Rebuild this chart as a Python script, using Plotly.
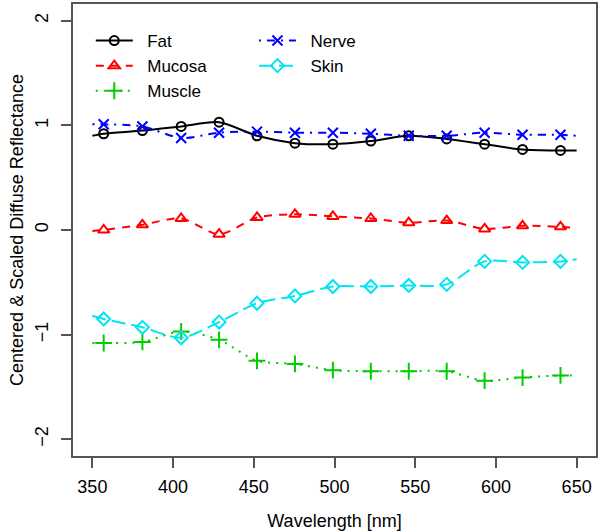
import plotly.graph_objects as go

# Wavelengths (nm) where markers are drawn
marker_wl = [357, 381, 405, 428.5, 452, 475.5, 499, 522.5, 546, 569.5, 593, 616.5, 640]
# Line end wavelengths
wl_start, wl_end = 350, 650

fat = [0.92, 0.95, 0.99, 1.03, 0.90, 0.83, 0.82, 0.85, 0.90, 0.87, 0.82, 0.77, 0.76]
mucosa = [0.00, 0.05, 0.11, -0.04, 0.12, 0.15, 0.13, 0.11, 0.07, 0.09, 0.01, 0.04, 0.03]
muscle = [-1.08, -1.07, -0.97, -1.05, -1.25, -1.28, -1.34, -1.35, -1.35, -1.35, -1.44, -1.41, -1.39]
nerve = [1.01, 0.99, 0.88, 0.93, 0.94, 0.93, 0.93, 0.92, 0.90, 0.90, 0.93, 0.91, 0.91]
skin = [-0.85, -0.93, -1.03, -0.88, -0.70, -0.63, -0.54, -0.54, -0.53, -0.52, -0.30, -0.31, -0.30]

# values at line ends (350, 650)
fat_ends = [0.90, 0.76]
mucosa_ends = [-0.01, 0.02]
muscle_ends = [-1.08, -1.39]
nerve_ends = [1.01, 0.90]
skin_ends = [-0.82, -0.28]

y_ticks = [-2, -1, 0, 1, 2]
x_ticks = [350, 400, 450, 500, 550, 600, 650]

FONT = "Liberation Sans, Arial, Helvetica, sans-serif"
NB = "\u00a0\u00a0"

series = [
    ("Fat", fat, fat_ends, "#000000", "solid", "circle-open", 9, "legend"),
    ("Mucosa", mucosa, mucosa_ends, "#FF0000", "8px,7px", "triangle-up-open", 10, "legend"),
    ("Muscle", muscle, muscle_ends, "#00CD00", "2px,6px", "cross-thin-open", 12, "legend"),
    ("Nerve", nerve, nerve_ends, "#0000FF", "2px,6px,8px,6px", "x-thin-open", 10, "legend2"),
    ("Skin", skin, skin_ends, "#00E5EE", "14px,6px", "diamond-open", 10, "legend2"),
]

fig = go.Figure()
for name, vals, ends, color, dash, sym, ms, leg in series:
    fig.add_trace(go.Scatter(
        x=[wl_start] + marker_wl + [wl_end], y=[ends[0]] + vals + [ends[1]],
        mode="lines", line=dict(color=color, width=2, dash=dash, shape="spline", smoothing=0.8),
        showlegend=False, hoverinfo="skip"))
    fig.add_trace(go.Scatter(
        x=marker_wl, y=vals, mode="markers",
        marker=dict(symbol=sym, size=ms, color=color, line=dict(color=color, width=2)),
        showlegend=False))
    fig.add_trace(go.Scatter(
        x=[None], y=[None], mode="lines+markers", name=NB + name, legend=leg,
        line=dict(color=color, width=2, dash=dash),
        marker=dict(symbol=sym, size=ms, color=color, line=dict(color=color, width=2))))

axis_common = dict(
    showgrid=False, zeroline=False, showline=True, mirror=True,
    linecolor="#555555", linewidth=1.5, ticks="outside", ticklen=10,
    tickcolor="#555555", tickwidth=1.5,
    tickfont=dict(family=FONT, size=18, color="#000000"),
)

fig.update_layout(
    width=600, height=532,
    margin=dict(l=73, r=3, t=2, b=76),
    paper_bgcolor="white", plot_bgcolor="white",
    font=dict(family=FONT, size=18, color="#000000"),
    xaxis=dict(range=[338, 662], tickvals=x_ticks, ticklabelstandoff=4,
               title=dict(text="Wavelength [nm]", font=dict(family=FONT, size=18), standoff=18),
               **axis_common),
    yaxis=dict(range=[-2.16, 2.16], tickvals=y_ticks, tickangle=-90, ticklabelstandoff=6,
               title=dict(text="Centered & Scaled Diffuse Reflectance", font=dict(family=FONT, size=18), standoff=4),
               **axis_common),
    legend=dict(x=0.034, y=0.958, xanchor="left", yanchor="top", bgcolor="rgba(0,0,0,0)",
                font=dict(family=FONT, size=17), itemwidth=37, tracegroupgap=0),
    legend2=dict(x=0.346, y=0.958, xanchor="left", yanchor="top", bgcolor="rgba(0,0,0,0)",
                 font=dict(family=FONT, size=17), itemwidth=37, tracegroupgap=0),
)

fig.write_html("out.html", config={"displayModeBar": False},
               post_script="document.body.style.margin='0';")
